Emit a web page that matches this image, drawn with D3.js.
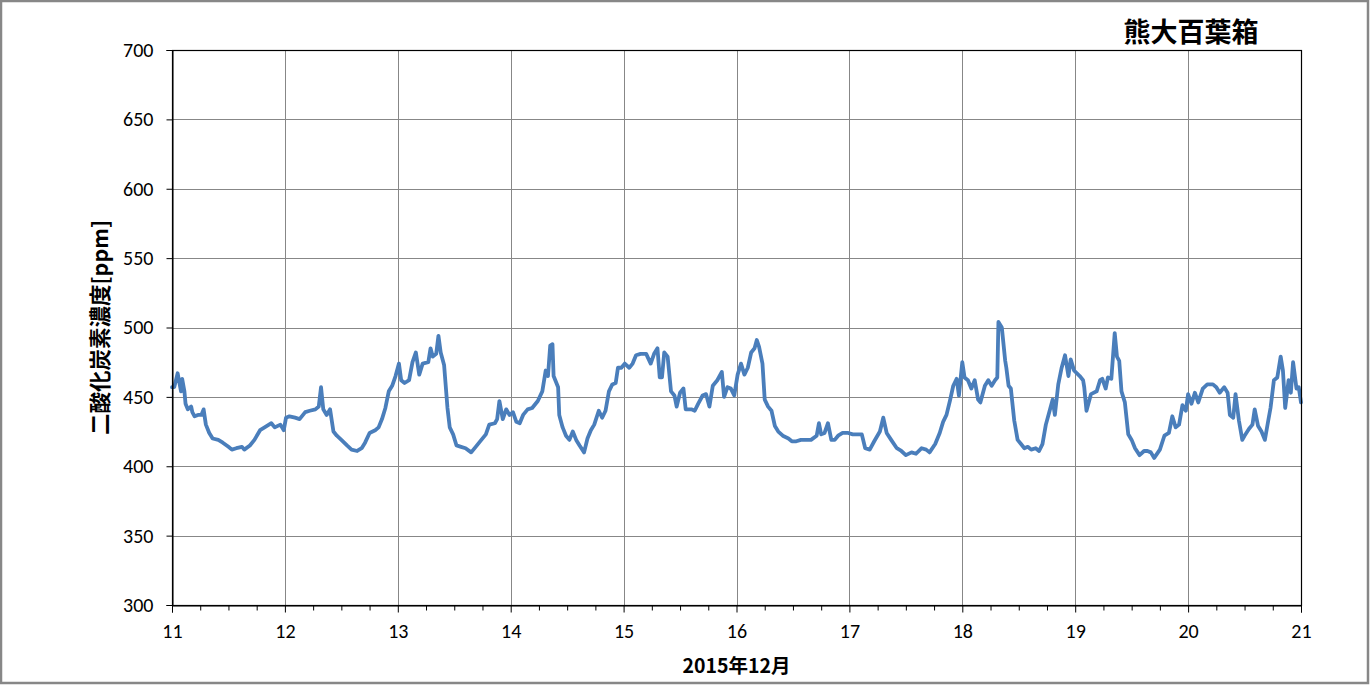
<!DOCTYPE html>
<html><head><meta charset="utf-8">
<script src="https://cdn.jsdelivr.net/npm/d3@7"></script>
<style>
html,body{margin:0;padding:0;background:#fff;}
svg{display:block;}
.tick text{font-family:Carlito,'Liberation Sans',sans-serif;font-size:20px;fill:#000;}
</style></head>
<body>
<svg id="chart" width="1370" height="685"></svg>
<script>
// ---- data (day of December 2015, CO2 ppm) ----
const days = [
11.00,11.02,11.05,11.08,11.09,11.11,11.12,11.14,11.17,11.18,11.20,11.23,11.26,11.28,11.30,11.33,11.36,11.41,11.45,11.50,
11.53,11.57,11.62,11.64,11.69,11.73,11.78,11.82,11.88,11.91,11.96,11.99,12.01,12.04,12.09,12.13,12.18,12.22,12.27,12.30,
12.32,12.34,12.37,12.40,12.43,12.46,12.50,12.55,12.59,12.64,12.68,12.71,12.75,12.80,12.83,12.86,12.89,12.92,12.95,12.98,
13.00,13.01,13.03,13.06,13.10,13.13,13.16,13.19,13.22,13.27,13.29,13.31,13.34,13.36,13.38,13.41,13.44,13.46,13.49,13.52,
13.56,13.60,13.65,13.69,13.74,13.78,13.81,13.86,13.88,13.90,13.93,13.96,13.99,14.02,14.05,14.08,14.11,14.15,14.19,14.24,
14.28,14.31,14.33,14.35,14.37,14.38,14.42,14.43,14.46,14.49,14.52,14.55,14.58,14.61,14.65,14.68,14.71,14.74,14.78,14.81,
14.84,14.87,14.90,14.93,14.95,14.98,15.01,15.05,15.08,15.11,15.15,15.20,15.24,15.27,15.30,15.32,15.34,15.36,15.39,15.42,
15.45,15.47,15.50,15.53,15.55,15.60,15.63,15.66,15.70,15.73,15.76,15.79,15.83,15.87,15.89,15.92,15.95,15.98,16.01,16.04,
16.07,16.10,16.13,16.16,16.18,16.20,16.23,16.25,16.28,16.31,16.34,16.37,16.41,16.46,16.49,16.53,16.57,16.62,16.66,16.71,
16.73,16.75,16.78,16.81,16.84,16.87,16.90,16.94,16.99,17.03,17.05,17.11,17.14,17.18,17.22,17.27,17.30,17.33,17.37,17.42,
17.46,17.50,17.55,17.59,17.64,17.68,17.71,17.76,17.80,17.83,17.86,17.89,17.92,17.95,17.97,18.00,18.02,18.05,18.08,18.11,
18.14,18.16,18.20,18.23,18.26,18.29,18.31,18.32,18.35,18.38,18.39,18.41,18.43,18.46,18.49,18.52,18.55,18.58,18.61,18.65,
18.68,18.71,18.74,18.77,18.80,18.82,18.85,18.88,18.91,18.94,18.96,18.99,19.04,19.07,19.08,19.10,19.14,19.19,19.22,19.24,
19.27,19.29,19.32,19.35,19.37,19.39,19.41,19.44,19.47,19.50,19.53,19.57,19.61,19.64,19.67,19.70,19.75,19.79,19.83,19.86,
19.89,19.92,19.95,19.98,20.00,20.03,20.06,20.09,20.13,20.17,20.22,20.25,20.28,20.32,20.35,20.37,20.40,20.42,20.45,20.48,
20.50,20.54,20.57,20.59,20.62,20.65,20.68,20.71,20.73,20.76,20.79,20.82,20.84,20.86,20.89,20.91,20.93,20.96,20.98,21.00
];
const co2 = [
457,457,467,454,463,454,445,441,443,439,436,437,437,441,430,424,420,419,417,414,
412,413,414,412,415,419,426,428,431,428,430,426,435,436,435,434,439,440,441,443,
457,441,437,441,425,422,419,415,412,411,413,417,424,426,428,434,442,454,458,465,
471,474,462,460,462,475,482,466,474,475,485,479,481,494,482,473,442,428,423,415,
414,413,410,414,419,423,430,431,434,447,434,441,437,439,432,431,437,441,442,447,
454,469,465,487,488,465,457,437,428,422,419,425,419,415,410,420,426,430,440,435,
440,454,459,460,471,471,474,471,474,480,481,481,474,481,485,464,464,482,479,454,
451,443,453,456,441,441,440,445,451,452,443,458,462,468,450,457,456,451,466,474,
466,471,482,485,491,486,474,448,443,440,429,425,422,420,418,418,419,419,419,422,
431,423,424,431,419,419,422,424,424,423,423,423,413,412,418,425,435,424,419,413,
411,408,410,409,413,412,410,416,424,432,437,447,458,463,451,475,464,462,456,462,
448,446,458,462,458,462,464,504,500,476,471,458,456,433,419,416,413,414,412,413,
411,416,430,439,448,437,459,471,480,465,477,469,465,462,457,440,452,454,462,463,
456,464,463,496,479,476,454,446,423,419,413,408,411,411,410,406,412,422,424,436,
428,430,444,440,452,445,453,446,456,459,459,457,453,457,453,437,435,452,433,419,
422,427,430,441,429,425,419,433,442,462,464,479,469,442,462,453,475,456,457,446
];
const yTicks = [300,350,400,450,500,550,600,650,700];
const xTicks = [11,12,13,14,15,16,17,18,19,20,21];
const title = "熊大百葉箱";
const yTitle = "二酸化炭素濃度[ppm]";
const xTitle = "2015年12月";

// ---- layout ----
const svg = d3.select("#chart");
const L = 172, R = 1301, T = 50, B = 605;
const x = d3.scaleLinear().domain([11,21]).range([L,R]);
const y = d3.scaleLinear().domain([300,700]).range([B,T]);

// outer border
svg.append("rect").attr("x",1).attr("y",1).attr("width",1367).attr("height",682)
  .attr("fill","#fff").attr("stroke","#878787").attr("stroke-width",2.5);

// gridlines
const g = svg.append("g");
g.selectAll("line.hg").data(yTicks).join("line")
  .attr("x1",L).attr("x2",R).attr("y1",d=>Math.round(y(d))+0.5).attr("y2",d=>Math.round(y(d))+0.5)
  .attr("stroke","#878787").attr("stroke-width",1);
g.selectAll("line.vg").data(xTicks).join("line")
  .attr("y1",T).attr("y2",B).attr("x1",d=>Math.round(x(d))+0.5).attr("x2",d=>Math.round(x(d))+0.5)
  .attr("stroke","#878787").attr("stroke-width",1);

// data line
const line = d3.line().x((d,i)=>x(days[i])).y(d=>y(d)).curve(d3.curveLinear);
svg.append("path").datum(co2).attr("d",line)
  .attr("fill","none").attr("stroke","#4a7ebb").attr("stroke-width",3.8)
  .attr("stroke-linejoin","round").attr("stroke-linecap","round");

// plot border
svg.append("rect").attr("x",L+0.5).attr("y",T+0.5).attr("width",R-L).attr("height",B-T)
  .attr("fill","none").attr("stroke","#000").attr("stroke-width",1.2);

// y axis
const yAxis = d3.axisLeft(y).tickValues(yTicks).tickSize(6).tickPadding(13);
const ya = svg.append("g").attr("transform",`translate(${L+0.5},0)`).call(yAxis);
ya.select(".domain").attr("stroke","#000");

// x axis major
const xAxis = d3.axisBottom(x).tickValues(xTicks).tickSize(7).tickPadding(11).tickFormat(d3.format("d"));
const xa = svg.append("g").attr("transform",`translate(0,${B+0.5})`).call(xAxis);
xa.select(".domain").attr("stroke","#000");
// x axis minor ticks (every 6 hours)
const minor = d3.range(11,21,0.25).filter(d=>Math.abs(d-Math.round(d))>0.01);
svg.append("g").attr("transform",`translate(0,${B+0.5})`)
  .call(d3.axisBottom(x).tickValues(minor).tickSize(5).tickFormat(""))
  .select(".domain").remove();

// titles
svg.append("text").attr("x",1191).attr("y",42).attr("text-anchor","middle")
  .attr("font-family","'Noto Sans CJK JP', sans-serif").attr("font-weight","bold").attr("font-size",27)
  .text(title);
svg.append("text").attr("transform",`translate(108,${(T+B)/2}) rotate(-90)`).attr("text-anchor","middle")
  .attr("font-family","'Noto Sans CJK JP', sans-serif").attr("font-weight","bold").attr("font-size",21.5)
  .text(yTitle);
svg.append("text").attr("x",(L+R)/2).attr("y",673).attr("text-anchor","middle")
  .attr("font-family","'Noto Sans CJK JP', sans-serif").attr("font-weight","bold").attr("font-size",19.5)
  .text(xTitle);
</script>
</body></html>
